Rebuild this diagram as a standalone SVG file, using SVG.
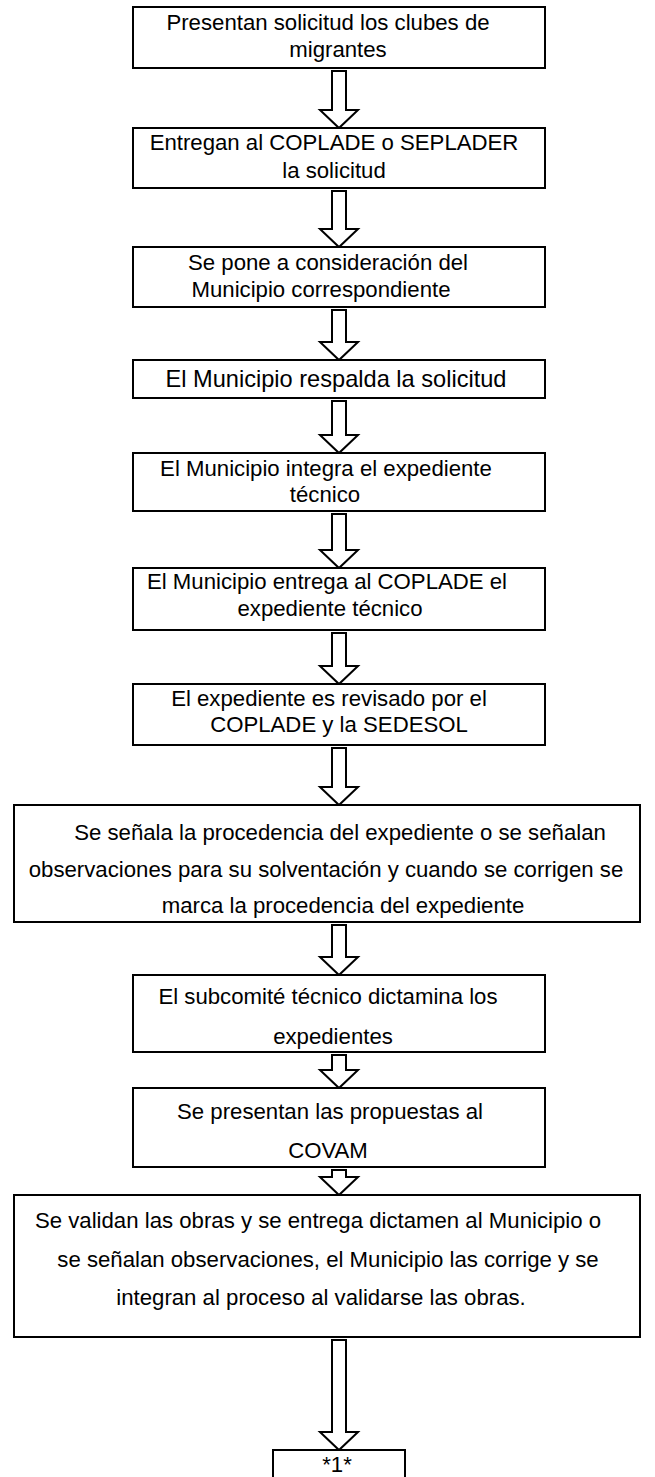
<svg xmlns="http://www.w3.org/2000/svg" width="655" height="1477" viewBox="0 0 655 1477">
<style>
.box{fill:#fff;stroke:#000;stroke-width:2}
.arr{fill:#fff;stroke:#000;stroke-width:2;stroke-linejoin:miter}
text{font-family:"Liberation Sans",Arial,sans-serif;font-size:22.2px;fill:#000;text-anchor:middle}
.big{font-size:23.6px}
</style>
<rect width="655" height="1477" fill="#fff"/>
<g id="connectors">
<path class="arr" d="M332 71 L346 71 L346 110 L358 110 L339 128 L320 110 L332 110 Z"/>
<path class="arr" d="M332 191 L346 191 L346 229 L358 229 L339 247 L320 229 L332 229 Z"/>
<path class="arr" d="M332 310 L346 310 L346 342 L358 342 L339 360 L320 342 L332 342 Z"/>
<path class="arr" d="M332 401 L346 401 L346 435 L358 435 L339 453 L320 435 L332 435 Z"/>
<path class="arr" d="M332 514 L346 514 L346 550 L358 550 L339 568 L320 550 L332 550 Z"/>
<path class="arr" d="M332 633 L346 633 L346 666 L358 666 L339 684 L320 666 L332 666 Z"/>
<path class="arr" d="M332 748 L346 748 L346 787 L358 787 L339 805 L320 787 L332 787 Z"/>
<path class="arr" d="M332 925 L346 925 L346 957 L358 957 L339 975 L320 957 L332 957 Z"/>
<path class="arr" d="M332 1055 L346 1055 L346 1070 L358 1070 L339 1088 L320 1070 L332 1070 Z"/>
<path class="arr" d="M332 1170 L346 1170 L346 1177 L358 1177 L339 1195 L320 1177 L332 1177 Z"/>
<path class="arr" d="M332 1340 L346 1340 L346 1432 L358 1432 L339 1450 L320 1432 L332 1432 Z"/>
</g>
<g id="n1"><rect class="box" x="133" y="7" width="412" height="61"/><text x="328" y="30">Presentan solicitud los clubes de</text><text x="338" y="57">migrantes</text></g>
<g id="n2"><rect class="box" x="133" y="128" width="412" height="60"/><text x="334" y="150">Entregan al COPLADE o SEPLADER</text><text x="334" y="178">la solicitud</text></g>
<g id="n3"><rect class="box" x="133" y="247" width="412" height="60"/><text x="328" y="270">Se pone a consideración del</text><text x="321" y="297">Municipio correspondiente</text></g>
<g id="n4"><rect class="box" x="133" y="360" width="412" height="38"/><text class="big" x="336" y="387">El Municipio respalda la solicitud</text></g>
<g id="n5"><rect class="box" x="133" y="453" width="412" height="58"/><text x="326" y="476">El Municipio integra el expediente</text><text x="325" y="502">técnico</text></g>
<g id="n6"><rect class="box" x="133" y="568" width="412" height="62"/><text x="327" y="589">El Municipio entrega al COPLADE el</text><text x="330" y="616">expediente técnico</text></g>
<g id="n7"><rect class="box" x="133" y="684" width="412" height="61"/><text x="329" y="706">El expediente es revisado por el</text><text x="339" y="732">COPLADE y la SEDESOL</text></g>
<g id="n8"><rect class="box" x="14" y="805" width="626" height="117"/><text x="340" y="840">Se señala la procedencia del expediente o se señalan</text><text x="326" y="877">observaciones para su solventación y cuando se corrigen se</text><text x="343" y="913">marca la procedencia del expediente</text></g>
<g id="n9"><rect class="box" x="133" y="975" width="412" height="77"/><text x="328" y="1004">El subcomité técnico dictamina los</text><text x="333" y="1044">expedientes</text></g>
<g id="n10"><rect class="box" x="133" y="1088" width="412" height="79"/><text x="330" y="1119">Se presentan las propuestas al</text><text x="328" y="1158">COVAM</text></g>
<g id="n11"><rect class="box" x="14" y="1195" width="626" height="142"/><text x="318" y="1228">Se validan las obras y se entrega dictamen al Municipio o</text><text x="328" y="1267">se señalan observaciones, el Municipio las corrige y se</text><text x="321" y="1305">integran al proceso al validarse las obras.</text></g>
<g id="n12"><rect class="box" x="273" y="1450" width="132" height="40"/><text x="337" y="1472">*1*</text></g>
</svg>
